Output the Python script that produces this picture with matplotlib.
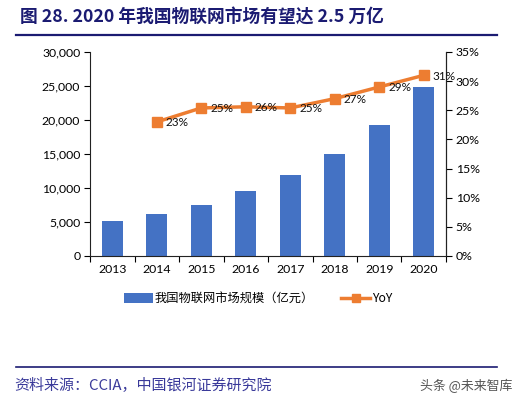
import matplotlib
matplotlib.use("Agg")
import matplotlib.pyplot as plt
from matplotlib.ticker import FuncFormatter, FixedLocator
from matplotlib.lines import Line2D
from matplotlib.patches import Patch

plt.rcParams['font.family'] = ['Lato', 'Noto Sans CJK SC', 'DejaVu Sans']

years = ["2013", "2014", "2015", "2016", "2017", "2018", "2019", "2020"]
market = [5100, 6200, 7500, 9500, 11900, 15000, 19200, 24800]
yoy_years = ["2014", "2015", "2016", "2017", "2018", "2019", "2020"]
yoy = [0.230, 0.254, 0.256, 0.254, 0.270, 0.290, 0.310]
yoy_labels = ["23%", "25%", "26%", "25%", "27%", "29%", "31%"]

title = "图 28. 2020 年我国物联网市场有望达 2.5 万亿"
bar_name = "我国物联网市场规模（亿元）"
line_name = "YoY"
source = "资料来源：CCIA，中国银河证券研究院"
watermark = "头条 @未来智库"

BLUE = "#4472C4"
ORANGE = "#ED7D31"
NAVY = "#1B1B72"

W, H = 528, 398
fig = plt.figure(figsize=(W / 100, H / 100), dpi=100)

ax = fig.add_axes([90 / W, 1 - 256 / H, (446 - 90) / W, (256 - 52) / H])
x = list(range(len(years)))
ax.bar(x, market, width=0.47, color=BLUE, zorder=2)
ax.set_xlim(-0.5, len(years) - 0.5)
ax.set_ylim(0, 30000)
ax.set_yticks(range(0, 30001, 5000))
ax.yaxis.set_major_formatter(FuncFormatter(lambda v, p: f"{int(v):,}"))
ax.set_xticks(x)
ax.set_xticklabels(years)
ax.xaxis.set_minor_locator(FixedLocator([i - 0.5 for i in range(len(years) + 1)]))
ax.tick_params(axis='x', which='major', length=0, labelsize=8.8, pad=6)
ax.tick_params(axis='x', which='minor', length=4, width=0.8, direction='out')
ax.tick_params(axis='y', length=4, width=0.8, direction='out', labelsize=8.8, pad=3)
ax.spines['top'].set_visible(False)
for s in ['left', 'bottom', 'right']:
    ax.spines[s].set_linewidth(0.8)
    ax.spines[s].set_color('#222222')

ax2 = ax.twinx()
xi = [years.index(y) for y in yoy_years]
ax2.plot(xi, yoy, color=ORANGE, lw=2.5, marker='s', markersize=7, zorder=3)
ax2.set_ylim(0, 0.35)
ax2.set_yticks([i * 0.05 for i in range(8)])
ax2.yaxis.set_major_formatter(FuncFormatter(lambda v, p: f"{round(v * 100)}%"))
ax2.tick_params(axis='y', length=4, width=0.8, direction='out', labelsize=8.8, pad=3)
ax2.spines['top'].set_visible(False)
ax2.spines['right'].set_linewidth(0.8)
ax2.spines['right'].set_color('#222222')
ax2.spines['left'].set_visible(False)
ax2.spines['bottom'].set_visible(False)
for xv, yv, lab in zip(xi, yoy, yoy_labels):
    ax2.annotate(lab, (xv, yv), xytext=(9, -1), textcoords='offset pixels',
                 ha='left', va='center', fontsize=8.5, color='#111111', zorder=4)

handles = [Patch(facecolor=BLUE, edgecolor='none'),
           Line2D([0], [0], color=ORANGE, lw=2.5, marker='s', markersize=6)]
fig.legend(handles, [bar_name, line_name], loc='center', bbox_to_anchor=(258 / W, 1 - 299 / H),
           ncol=2, frameon=False, handlelength=2.4, handleheight=0.9,
           columnspacing=2.2, handletextpad=0.15,
           prop={'family': ['Noto Sans CJK SC', 'DejaVu Sans'], 'size': 8.8})

fig.text(20 / W, 1 - 17 / H, title, fontsize=12.8, fontweight='bold', color=NAVY,
         ha='left', va='center', family=['Noto Sans CJK SC', 'DejaVu Sans'])
fig.add_artist(Line2D([16 / W, 497 / W], [1 - 35 / H, 1 - 35 / H], color=NAVY, lw=1.6))
fig.add_artist(Line2D([16 / W, 497 / W], [1 - 367 / H, 1 - 367 / H], color=NAVY, lw=1.2))
fig.text(14 / W, 1 - 386 / H, source, fontsize=10.8, color="#3A3A9A", ha='left', va='center',
         family=['Noto Sans CJK SC', 'DejaVu Sans'])
fig.text(512 / W, 1 - 386 / H, watermark, fontsize=9.3, color="#555555", ha='right', va='center',
         family=['Noto Sans CJK SC', 'DejaVu Sans'])

fig.savefig("out.png", dpi=100)
